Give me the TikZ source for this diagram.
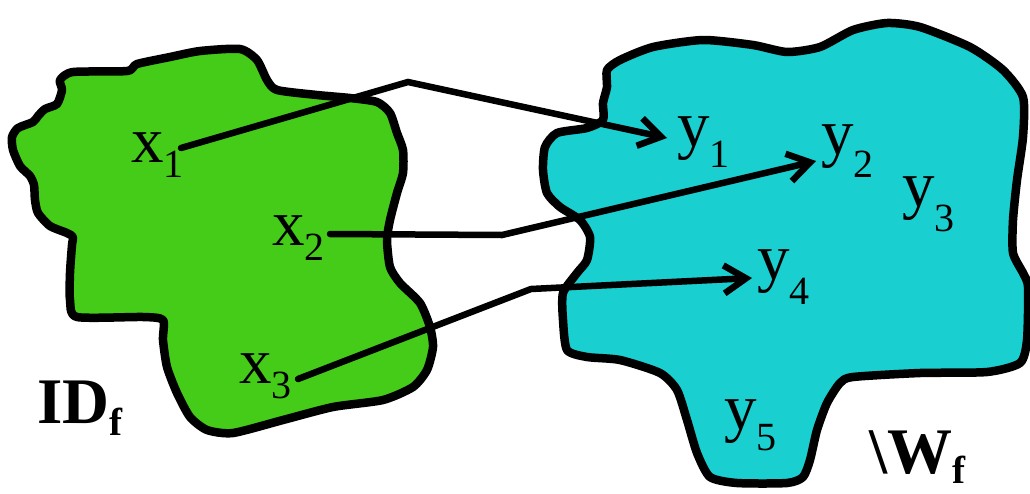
\documentclass[tikz,border=0pt]{standalone}
\usepackage{fontspec}
\setmainfont{Liberation Serif}
\usetikzlibrary{arrows.meta}
\definecolor{domgreen}{RGB}{68,204,24}
\definecolor{rangecyan}{RGB}{26,207,207}
% element label: letter, subscript, drop of the subscript (pt)
\newcommand{\elem}[3]{#1\raisebox{-#3pt}{\fontsize{40}{40}\selectfont #2}}
% set name in bold with a bold subscript
\newcommand{\setname}[3]{\textbf{#1}\raisebox{-#3pt}{\fontsize{39}{39}\selectfont\textbf{#2}}}
\begin{document}
\begin{tikzpicture}[x=1pt,y=-1pt,
  region/.style={draw=black,line width=8.5pt,line join=round},
  elemlabel/.style={inner sep=0pt,anchor=base west,font=\fontsize{65}{70}\selectfont},
  setlabel/.style={inner sep=0pt,anchor=base west,font=\fontsize{65}{70}\selectfont},
  mapsto/.style={line width=6.5pt,line cap=round,-{Straight Barb[length=22pt,width=28pt]}}]
\useasboundingbox (0,0) rectangle (1030,493);

% domain
\path[region,fill=domgreen] plot[smooth cycle,tension=0.4] coordinates {
  (60,80) (73,72) (127,71) (137,64) (170,57) (200,51) (240,49) (257,60)
  (267,80) (277,90) (317,95) (350,98) (377,102) (390,113) (397,133)
  (403,150) (403,173) (397,193) (390,220) (387,240) (390,267) (400,283)
  (420,303) (430,327) (433,347) (427,370) (413,387) (383,400) (333,407)
  (283,420) (233,433) (207,430) (190,417) (177,393) (167,367) (163,340)
  (163,320) (143,317) (77,317) (70,300) (70,273) (72,245) (73,237)
  (67,233) (50,226) (38,213) (35,200) (34,185) (30,176) (20,166) (13,150)
  (12,137) (18,128) (33,122) (38,116) (45,109) (57,104) (62,90)};

% range
\path[region,fill=rangecyan] plot[smooth cycle,tension=0.4] coordinates {
  (607,70) (620,60) (653,47) (703,40) (753,45) (787,52) (820,47) (853,30)
  (887,23) (920,27) (970,47) (1003,70) (1023,97) (1023,137) (1017,180)
  (1013,220) (1013,253) (1023,273) (1028,287) (1027,340) (1020,363)
  (987,372) (920,373) (853,377) (840,383) (827,403) (817,430) (810,460)
  (803,477) (787,483) (737,483) (710,477) (697,453) (687,420) (677,390)
  (660,373) (620,360) (587,357) (567,350) (563,320) (563,293) (577,273)
  (587,260) (590,237) (580,220) (560,207) (547,193) (543,170) (545,147)
  (557,133) (587,128) (603,120) (603,103) (607,87)};

% element labels
\node[elemlabel] (x1) at (131,162) {\elem{x}{1}{15}};
\node[elemlabel] (x2) at (272,245) {\elem{x}{2}{15}};
\node[elemlabel] (x3) at (239,383) {\elem{x}{3}{15}};
\node[elemlabel] (y1) at (677,146) {\elem{y}{1}{21}};
\node[elemlabel] (y2) at (821,154) {\elem{y}{2}{23}};
\node[elemlabel] (y3) at (902,206) {\elem{y}{3}{25}};
\node[elemlabel] (y4) at (757,279) {\elem{y}{4}{25}};
\node[elemlabel] (y5) at (724,429) {\elem{y}{5}{21}};

% set names
\node[setlabel] (dom) at (37,423) {\setname{ID}{f}{12}};
\node[setlabel] (ran) at (869,473) {\setname{\textbackslash W}{f}{10}};

% mapping arrows
\coordinate (s1) at (181,148);
\coordinate (b1) at (408,82);
\coordinate (t1) at (667,138);
\coordinate (s2) at (330,234);
\coordinate (b2) at (502,235);
\coordinate (t2) at (816,161);
\coordinate (s3) at (298,379);
\coordinate (b3) at (531,289);
\coordinate (t3) at (752,278);
\draw[mapsto] (s1) -- (b1) -- (t1);
\draw[mapsto] (s2) -- (b2) -- (t2);
\draw[mapsto] (s3) -- (b3) -- (t3);
\end{tikzpicture}
\end{document}
